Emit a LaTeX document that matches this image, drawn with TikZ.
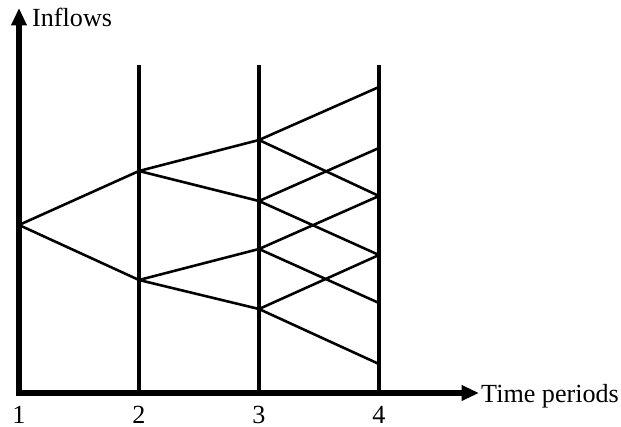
\documentclass[tikz,border=0pt]{standalone}
\usepackage{fontspec}
\setmainfont{Liberation Serif}
\usetikzlibrary{arrows.meta}

\begin{document}
\begin{tikzpicture}[
    x=0.03cm, y=-0.03cm,
    axis/.style={line width=4.5pt, {Triangle[length=0.52cm, width=0.44cm]}-{Triangle[length=0.52cm, width=0.44cm]}},
    period/.style={line width=3.2pt},
    branch/.style={line width=2.2pt},
    label text/.style={font=\fontsize{22.3}{26}\selectfont, inner sep=0pt}
]
\useasboundingbox (0,0) rectangle (621,427);

% Axes
\coordinate (O) at (19,393);
\coordinate (Ytip) at (19,8);
\coordinate (Xtip) at (479,393);
\draw[axis] (Ytip) -- (O) -- (Xtip);
\node[label text, anchor=base west] (Ylab) at (32,27) {Inflows};
\node[label text, anchor=base west] (Xlab) at (481,402) {Time periods};

% Time periods
\coordinate (P2) at (139,65);
\coordinate (P3) at (259,65);
\coordinate (P4) at (379,65);
\draw[period] (P2) -- (P2 |- O);
\draw[period] (P3) -- (P3 |- O);
\draw[period] (P4) -- (P4 |- O);
\node[label text, anchor=base] (T1) at (19,423) {1};
\node[label text, anchor=base] (T2) at (139,423) {2};
\node[label text, anchor=base] (T3) at (259,423) {3};
\node[label text, anchor=base] (T4) at (379,423) {4};

% Scenario tree points
\coordinate (N1) at (19,225);
\coordinate (N2a) at (139,171);
\coordinate (N2b) at (139,280);
\coordinate (N3a) at (259,140);
\coordinate (N3b) at (259,201);
\coordinate (N3c) at (259,249);
\coordinate (N3d) at (259,309);
\coordinate (N4a) at (379,87);
\coordinate (N4b) at (379,148);
\coordinate (N4c) at (379,196);
\coordinate (N4d) at (379,255);
\coordinate (N4e) at (379,303);
\coordinate (N4f) at (379,364);

% Branches
\draw[branch] (N1) -- (N2a);
\draw[branch] (N1) -- (N2b);
\draw[branch] (N2a) -- (N3a);
\draw[branch] (N2a) -- (N3b);
\draw[branch] (N2b) -- (N3c);
\draw[branch] (N2b) -- (N3d);
\draw[branch] (N3a) -- (N4a);
\draw[branch] (N3a) -- (N4c);
\draw[branch] (N3b) -- (N4b);
\draw[branch] (N3b) -- (N4d);
\draw[branch] (N3c) -- (N4c);
\draw[branch] (N3c) -- (N4e);
\draw[branch] (N3d) -- (N4d);
\draw[branch] (N3d) -- (N4f);

\end{tikzpicture}
\end{document}
